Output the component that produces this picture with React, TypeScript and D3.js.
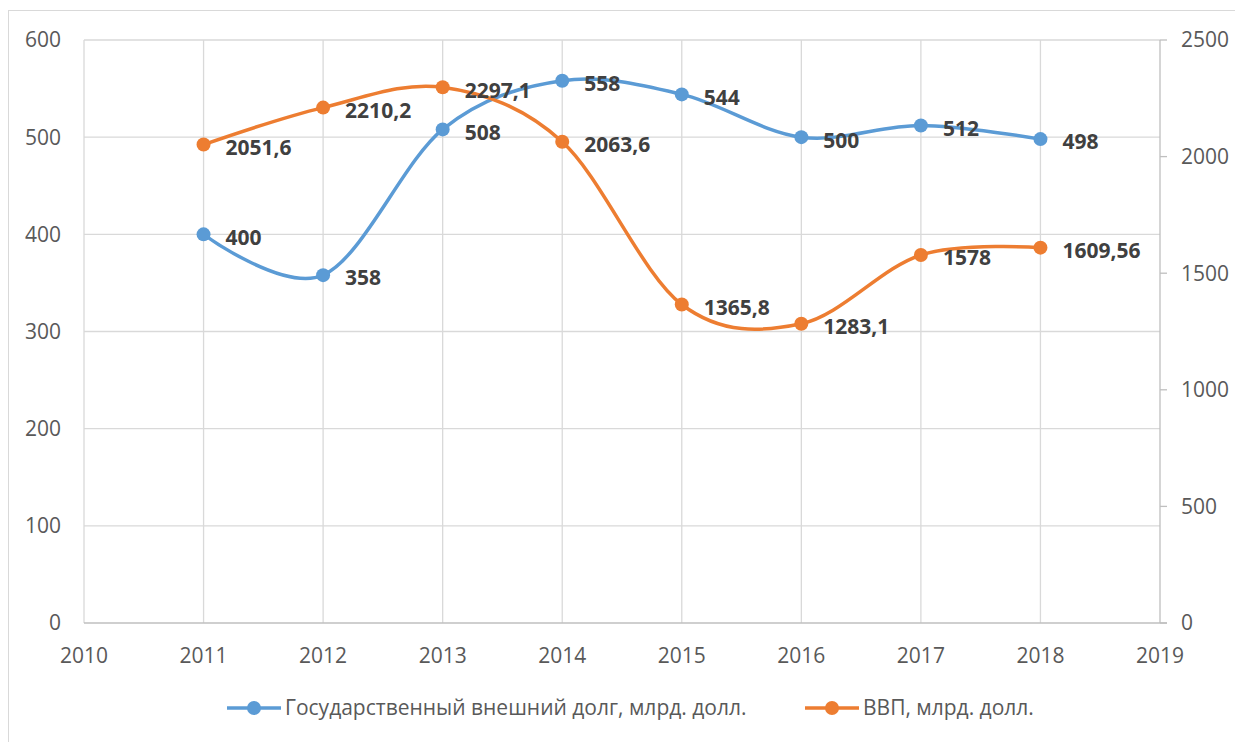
import React, { useEffect, useRef } from 'react'
import * as d3 from 'd3'

const years = [2011, 2012, 2013, 2014, 2015, 2016, 2017, 2018]
const debt = [400, 358, 508, 558, 544, 500, 512, 498]
const gdp = [2051.6, 2210.2, 2297.1, 2063.6, 1365.8, 1283.1, 1578, 1609.56]
const gdpLabels = ['2051,6', '2210,2', '2297,1', '2063,6', '1365,8', '1283,1', '1578', '1609,56']
const xTicks = [2010, 2011, 2012, 2013, 2014, 2015, 2016, 2017, 2018, 2019]
const leftTicks = [0, 100, 200, 300, 400, 500, 600]
const rightTicks = [0, 500, 1000, 1500, 2000, 2500]
const seriesNames = ['Государственный внешний долг, млрд. долл.', 'ВВП, млрд. долл.']

const BLUE = '#5b9bd5'
const ORANGE = '#ed7d31'
const FONT = '"Open Sans", sans-serif'

export default function App() {
  const ref = useRef<SVGSVGElement>(null)

  useEffect(() => {
    const svg = d3.select(ref.current)
    svg.selectAll('*').remove()

    const left = 84, right = 1160, top = 40, bottom = 623
    const x = d3.scaleLinear().domain([2010, 2019]).range([left, right])
    const yL = d3.scaleLinear().domain([0, 600]).range([bottom, top])
    const yR = d3.scaleLinear().domain([0, 2500]).range([bottom, top])

    svg.append('rect')
      .attr('x', 8.5).attr('y', 10.5).attr('width', 1240).attr('height', 740)
      .attr('fill', 'white').attr('stroke', '#d9d9d9')

    const grid = svg.append('g').attr('stroke', '#d9d9d9').attr('stroke-width', 1.3)
    grid.selectAll('line.h').data(leftTicks.filter(d => d > 0)).enter().append('line')
      .attr('x1', left).attr('x2', right)
      .attr('y1', d => yL(d)).attr('y2', d => yL(d))
    grid.selectAll('line.v').data(xTicks.slice(0, -1)).enter().append('line')
      .attr('y1', top).attr('y2', bottom)
      .attr('x1', d => x(d)).attr('x2', d => x(d))

    // axis lines
    svg.append('line').attr('x1', left).attr('x2', right + 7)
      .attr('y1', bottom).attr('y2', bottom).attr('stroke', '#bfbfbf').attr('stroke-width', 1.3)
    svg.append('line').attr('x1', right).attr('x2', right)
      .attr('y1', top).attr('y2', bottom).attr('stroke', '#bfbfbf').attr('stroke-width', 1.3)
    svg.selectAll('line.rt').data(rightTicks).enter().append('line')
      .attr('x1', right).attr('x2', right + 7)
      .attr('y1', d => yR(d)).attr('y2', d => yR(d))
      .attr('stroke', '#bfbfbf').attr('stroke-width', 1.3)

    const tickStyle = (s: any) => s.attr('font-family', FONT).attr('font-size', 21).attr('fill', '#595959')

    svg.selectAll('text.yl').data(leftTicks).enter().append('text')
      .attr('x', 61).attr('y', d => yL(d)).attr('dy', '0.35em').attr('text-anchor', 'end')
      .text(d => d).call(tickStyle)
    svg.selectAll('text.yr').data(rightTicks).enter().append('text')
      .attr('x', 1181).attr('y', d => yR(d)).attr('dy', '0.35em').attr('text-anchor', 'start')
      .text(d => d).call(tickStyle)
    svg.selectAll('text.x').data(xTicks).enter().append('text')
      .attr('x', d => x(d)).attr('y', 656).attr('dy', '0.35em').attr('text-anchor', 'middle')
      .text(d => d).call(tickStyle)

    const series = [
      { vals: debt, y: yL, color: BLUE, labels: debt.map(String) },
      { vals: gdp, y: yR, color: ORANGE, labels: gdpLabels },
    ]

    series.forEach(s => {
      const line = d3.line<number>()
        .x((_, i) => x(years[i]))
        .y(d => s.y(d))
        .curve(d3.curveCardinal.tension(0))
      svg.append('path').datum(s.vals).attr('d', line)
        .attr('fill', 'none').attr('stroke', s.color).attr('stroke-width', 3.5)
    })

    series.forEach(s => {
      svg.selectAll(null).data(s.vals).enter().append('circle')
        .attr('cx', (_, i) => x(years[i])).attr('cy', d => s.y(d)).attr('r', 7)
        .attr('fill', s.color)
    })

    series.forEach(s => {
      svg.selectAll(null).data(s.vals).enter().append('text')
        .attr('x', (_, i) => x(years[i]) + 22).attr('y', d => s.y(d) + 3)
        .attr('dy', '0.35em')
        .attr('font-family', FONT).attr('font-size', 21).attr('font-weight', 'bold')
        .attr('fill', '#404040')
        .text((_, i) => s.labels[i])
    })

    // legend
    const legend = [
      { x: 227, color: BLUE, name: seriesNames[0] },
      { x: 805, color: ORANGE, name: seriesNames[1] },
    ]
    legend.forEach(l => {
      const g = svg.append('g')
      g.append('line').attr('x1', l.x).attr('x2', l.x + 54).attr('y1', 708).attr('y2', 708)
        .attr('stroke', l.color).attr('stroke-width', 3.5)
      g.append('circle').attr('cx', l.x + 27).attr('cy', 708).attr('r', 7).attr('fill', l.color)
      g.append('text').attr('x', l.x + 58).attr('y', 708).attr('dy', '0.35em')
        .attr('font-family', FONT).attr('font-size', 21).attr('fill', '#595959')
        .text(l.name)
    })
  }, [])

  return (
    <svg ref={ref} width={1235} height={742}
      style={{ position: 'absolute', left: 0, top: 0, background: 'white' }} />
  )
}
